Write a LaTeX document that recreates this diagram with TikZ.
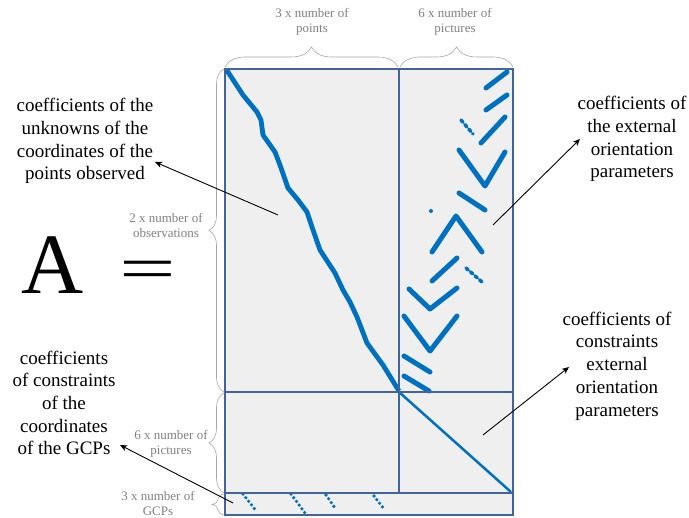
\documentclass[tikz,border=0pt]{standalone}
\usepackage{fontspec}
\setmainfont{Liberation Serif}
\usetikzlibrary{decorations.pathreplacing,arrows.meta}
\definecolor{mblue}{RGB}{0,112,192}
\definecolor{mborder}{RGB}{65,100,155}
\definecolor{mfill}{RGB}{239,239,239}
\definecolor{mgrey}{RGB}{128,128,128}
\begin{document}
\begin{tikzpicture}[x=1pt,y=-1pt,
 lbl/.style={align=center,font=\fontsize{19}{22.7}\selectfont,inner sep=0pt},
 dimtext/.style={align=center,font=\fontsize{13}{15}\selectfont,text=mgrey,inner sep=0pt},
 brc/.style={draw=mgrey!70,line width=0.6pt,decorate,decoration={brace,amplitude=#1}},
 ptr/.style={draw=black,line width=0.9pt,-{Stealth[length=7pt,width=6pt,inset=2pt]}},
 blk/.style={draw=mborder,line width=1.5pt},
 nz/.style={draw=mblue,line width=5pt,line cap=round,line join=round},
 nzt/.style={draw=mblue,line width=3.5pt,line cap=round,dash pattern=on 3pt off 3pt},
 nzd/.style={draw=mblue,line width=3.6pt,line cap=round,dash pattern=on 0pt off 4.6pt}]
\useasboundingbox (0,0) rectangle (689,518);

% matrix blocks
\fill[mfill] (225,69) rectangle (513,515);
\coordinate (tl) at (225,69);
\coordinate (br) at (513,515);
\coordinate (c1) at (399,392);
\coordinate (c2) at (511,492);

% blue nonzero pattern: points block
\draw[nz,line width=4.8pt,line cap=butt] (226,69) -- (243,95) -- (257,112) -- (261,120) -- (263,135) -- (275,152) -- (280,165) -- (288,188) -- (298,200) -- (307,212) -- (312,227) -- (320,250) -- (335,273) -- (343,290) -- (350,302) -- (357,317) -- (367,343) -- (383,365) -- (399,391);

% orientation block
\draw[nz] (486,88) -- (507,72);
\draw[nz] (486,110) -- (507,95);
\draw[nzt] (461,120) -- (473,134);
\draw[nz] (481,143) -- (505,117);
\draw[nz] (459,150) -- (485,186) -- (505,152);
\draw[nz] (459,193) -- (485,210);
\fill[mblue] (431,211) circle (2pt);
\draw[nz] (432,252) -- (456,216) -- (482,252);
\draw[nz] (432,281) -- (457,258);
\draw[nzt] (466,268) -- (482,282);
\draw[nz] (409,289) -- (430,309) -- (457,288);
\draw[nz] (404,316) -- (430,351) -- (457,316);
\draw[nz] (404,356) -- (430,372);
\draw[nz] (404,376) -- (429,391);

% constraints external orientation
\draw[mblue,line width=2.5pt] (c1) -- (c2);

% GCP constraints
\draw[nzd] (243,494) -- (257,512);
\draw[nzd] (291,494) -- (305,513);
\draw[nzd] (326,495) -- (335,508);
\draw[nzd] (374,496) -- (384,509);

% block borders
\draw[blk] (tl) rectangle (br);
\draw[blk] (399,69) -- (399,493);
\draw[blk] (225,392) -- (513,392);
\draw[blk] (225,493) -- (513,493);

% braces
\draw[brc=20pt] (225,67) -- (398,67);
\draw[brc=20pt] (400,67) -- (513,67);
\draw[brc=15pt] (224,392) -- (224,69);
\draw[brc=15pt] (224,493) -- (224,393);
\draw[brc=12pt] (224,515) -- (224,494);

\node[dimtext] (d1) at (312,22) {3 x number of\\points};
\node[dimtext] (d2) at (455,22) {6 x number of\\pictures};
\node[dimtext] (d3) at (166,225) {2 x number of\\observations};
\node[dimtext] (d4) at (171,444) {6 x number of\\pictures};
\node[dimtext] (d5) at (158,503) {3 x number of\\GCPs};

% A =
\node[font=\fontsize{86}{90}\selectfont,anchor=base,inner sep=0pt] (bigA) at (52.5,294) {A};
\node[font=\fontsize{86}{90}\selectfont,inner sep=0pt,anchor=base,text height=0.45em,text depth=0pt,xscale=1.17,yscale=0.72] (eq) at (147.5,289.5) {=};

% labels
\node[lbl] (l1) at (85,141) {coefficients of the\\unknowns of the\\coordinates of the\\points observed};
\node[lbl] (l2) at (632,139) {coefficients of\\the external\\orientation\\parameters};
\node[lbl] (l3) at (617,366) {coefficients of\\constraints\\external\\orientation\\parameters};
\node[lbl] (l4) at (64,403) {coefficients\\of constraints\\of the\\coordinates\\of the GCPs};

% pointers
\coordinate (s1) at (278,215); \coordinate (t1) at (155,162);
\coordinate (s2) at (493,225); \coordinate (t2) at (580,139);
\coordinate (s3) at (483,435); \coordinate (t3) at (569,367);
\coordinate (s4) at (233,503); \coordinate (t4) at (120,445);
\draw[ptr] (s1) -- (t1);
\draw[ptr] (s2) -- (t2);
\draw[ptr] (s3) -- (t3);
\draw[ptr] (s4) -- (t4);
\end{tikzpicture}
\end{document}
